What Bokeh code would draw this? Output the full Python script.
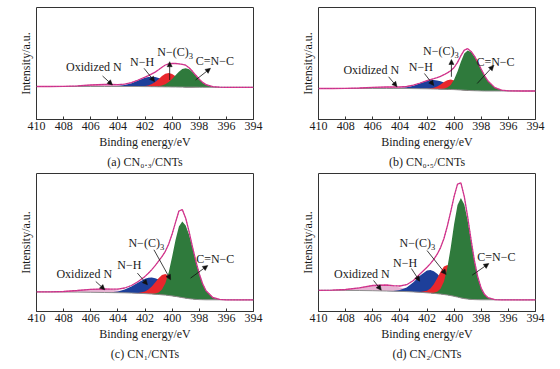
from bokeh.plotting import figure
from bokeh.models import Range1d, FixedTicker, Label, Arrow, NormalHead, Title
from bokeh.layouts import column, row
from bokeh.embed import file_html
from bokeh.resources import INLINE
import numpy as np

FONT = "Liberation Serif"

# Binding energy grid (eV)
energy = [410, 409, 408, 407, 406, 405, 404.5, 404, 403.5, 403, 402.5, 402, 401.75, 401.5,
          401.25, 401, 400.75, 400.5, 400.25, 400, 399.75, 399.5, 399.25, 399, 398.75, 398.5,
          398.25, 398, 397.75, 397.5, 397, 396.5, 396, 395, 394]
xticks = [410, 408, 406, 404, 402, 400, 398, 396, 394]

# ---- (a) CN0.3/CNTs ----
base_a = [33.0] * 11 + [32.9, 32.9, 32.8, 32.8, 32.7, 32.7, 32.6, 32.6, 32.5, 32.5, 32.4, 32.4,
                        32.3, 32.3, 32.3, 32.3] + [32.2] * 8
oxn_a = [0, 0, 0.1, 0.6, 1.5, 2.0, 1.9, 1.5, 1.0, 0.6, 0.3, 0.1, 0.1, 0.1] + [0] * 21
nh_a = [0] * 6 + [0.1, 0.4, 1.4, 3.3, 6.1, 8.8, 9.7, 10.0, 9.7, 8.8, 7.6, 6.1, 4.6, 3.3, 2.2,
                  1.4, 0.8, 0.4, 0.2, 0.1] + [0] * 9
nc3_a = [0] * 10 + [0.1, 0.5, 1.2, 2.6, 4.7, 7.6, 10.7, 13.1, 14.0, 13.1, 10.7, 7.6, 4.7, 2.6,
                    1.2, 0.5, 0.2, 0.1] + [0] * 7
cnc_a = [0] * 13 + [0.1, 0.2, 0.6, 1.3, 2.7, 4.9, 8.0, 11.7, 15.3, 18.0, 19.0, 18.0, 15.3, 11.7,
                    8.0, 4.9, 2.7, 0.6, 0.1] + [0] * 3
env_a = [0, 0, 0.1, 0.6, 1.5, 2.0, 2.0, 1.9, 2.4, 3.9, 6.5, 9.4, 11.0, 12.8, 14.6, 17.0, 19.6,
         21.9, 23.0, 23.5, 23.5, 23.3, 22.8, 22.0, 19.4, 15.9, 11.9, 8.1, 4.9, 2.7, 0.6, 0.1, 0, 0, 0]

# ---- (b) CN0.5/CNTs ----
base_b = [31.0] * 9 + [30.9, 30.8, 30.7, 30.6, 30.5, 30.4, 30.3, 30.2, 30.1, 30.0, 29.9, 29.7,
                       29.5, 29.3, 29.1, 28.9, 28.8, 28.7, 28.6] + [28.5] * 7
oxn_b = [0, 0, 0.1, 0.5, 1.1, 1.5, 1.4, 1.1, 0.8, 0.5, 0.2, 0.1, 0.1] + [0] * 22
nh_b = [0] * 6 + [0.1, 0.4, 1.2, 2.9, 5.5, 7.9, 8.7, 9.0, 8.7, 7.9, 6.8, 5.5, 4.1, 2.9, 1.9,
                  1.2, 0.7, 0.4, 0.2, 0.1] + [0] * 9
nc3_b = [0] * 11 + [0.2, 0.5, 1.3, 2.7, 4.8, 7.2, 9.2, 10.0, 9.2, 7.2, 4.8, 2.7, 1.3, 0.5, 0.2,
                    0.1] + [0] * 8
cnc_b = [0] * 15 + [0.2, 0.6, 1.8, 4.6, 10.0, 18.3, 28.3, 36.7, 40.0, 38.5, 34.3, 28.3, 21.6,
                    15.2, 10.0, 3.4, 0.8, 0.2] + [0] * 2
env_b = [0, 0, 0.1, 0.5, 1.1, 1.5, 1.5, 1.5, 2.0, 3.4, 5.7, 8.2, 9.3, 10.3, 11.4, 12.9, 14.6,
         16.5, 18.7, 22.1, 27.4, 34.3, 40.1, 41.7, 39.2, 34.6, 28.4, 21.6, 15.2, 10.0, 3.4, 0.8,
         0.2, 0, 0]

# ---- (c) CN1/CNTs ----
base_c = [19.6, 19.6, 19.5, 19.4, 19.2, 19.0, 18.9, 18.8, 18.7, 18.5, 18.2, 17.9, 17.7, 17.5,
          17.2, 17.0, 16.7, 16.4, 16.0, 15.6, 15.1, 14.5, 13.9, 13.3, 12.8, 12.4, 12.1, 11.9,
          11.8, 11.7, 11.7, 11.7, 11.7, 11.6, 11.6]
oxn_c = [0, 0.1, 0.5, 1.6, 3.0, 3.4, 3.0, 2.3, 1.6, 1.0, 0.5, 0.2, 0.2, 0.1, 0.1] + [0] * 20
nh_c = [0] * 5 + [0.1, 0.4, 1.3, 3.2, 6.5, 10.9, 14.9, 16.1, 16.5, 16.1, 14.9, 13.1, 10.9, 8.6,
                  6.5, 4.7, 3.2, 2.0, 1.3, 0.7, 0.4, 0.2, 0.1] + [0] * 7
nc3_c = [0] * 10 + [0.4, 2.1, 4.3, 7.6, 11.8, 16.3, 19.7, 21.0, 19.7, 16.3, 11.8, 7.6, 4.3, 2.1,
                    0.9, 0.4, 0.1] + [0] * 8
cnc_c = [0] * 13 + [0.2, 0.7, 2.1, 5.3, 11.9, 23.3, 39.1, 56.5, 70.6, 76.0, 72.8, 63.9, 51.5,
                    38.0, 25.8, 16.0, 9.1, 2.3, 0.4] + [0] * 3
env_c = [0, 0.1, 0.5, 1.6, 3.0, 3.5, 3.4, 3.6, 4.8, 7.5, 11.8, 17.2, 20.6, 24.4, 28.7, 33.3,
         38.1, 43.8, 51.6, 61.9, 74.0, 86.0, 88.0, 80.0, 67.0, 52.3, 38.3, 25.9, 16.0, 9.1, 2.3,
         0.4, 0, 0, 0]

# ---- (d) CN2/CNTs ----
base_d = [21.2, 21.2, 21.1, 21.0, 20.8, 20.5, 20.3, 20.1, 19.9, 19.6, 19.2, 18.7, 18.4, 18.1,
          17.8, 17.4, 17.0, 16.5, 15.9, 15.2, 14.4, 13.6, 12.9, 12.4, 12.1, 11.9, 11.8, 11.7,
          11.7, 11.7, 11.7, 11.7, 11.7, 11.6, 11.6]
oxn_d = [0, 0.2, 0.9, 2.7, 5.2, 5.9, 5.2, 4.0, 2.7, 1.7, 0.9, 0.4, 0.3, 0.2, 0.1, 0.1] + [0] * 19
nh_d = [0] * 5 + [0.1, 0.3, 1.4, 4.2, 9.7, 16.8, 22.2, 23.0, 22.2, 20.0, 16.8, 13.2, 9.7, 6.6,
                  4.2, 2.5, 1.4, 0.7, 0.3, 0.1] + [0] * 10
nc3_d = [0] * 10 + [0.3, 2.1, 4.7, 9.2, 15.4, 22.3, 27.9, 30.0, 27.9, 22.3, 15.4, 9.2, 4.7, 2.1,
                    0.8, 0.3, 0.1] + [0] * 8
cnc_d = [0] * 12 + [0.1, 0.6, 1.9, 5.4, 13.1, 27.2, 48.1, 72.2, 92.2, 100.0, 94.1, 78.6, 58.1,
                    38.1, 22.2, 11.4, 5.2, 2.1, 0.2] + [0] * 4
env_d = [0, 0.2, 0.9, 2.7, 5.2, 6.0, 5.5, 5.4, 6.9, 11.4, 18.5, 25.5, 29.5, 34.0, 39.5, 46.5,
         56.0, 69.0, 84.0, 100.0, 113.0, 115.0, 102.0, 82.0, 59.5, 38.6, 22.4, 11.4, 5.2, 2.1,
         0.2, 0, 0, 0, 0]

peak_names = ["Oxidized N", "N\u2212H", "N\u2212(C)", "C=N\u2212C"]
captions = ["(a) CN\u2080.\u2083/CNTs", "(b) CN\u2080.\u2085/CNTs",
            "(c) CN\u2081/CNTs", "(d) CN\u2082/CNTs"]

# annotation placement: (text anchor, arrow start, arrow end) in data coordinates
annots = [
    [((405.77, 52.8), (405.13, 43.5), (404.4, 34.5)),
     ((402.22, 57.8), (402.07, 51.2), (401.29, 37.8)),
     ((401.09, 67.8), (400.18, 39.5), (400.18, 57.8)),
     ((396.85, 58.5), (398.27, 39.5), (397.17, 51.2))],
    [((406.11, 49.3), (404.83, 42.7), (404.21, 32.7)),
     ((402.45, 52.3), (402.19, 46.0), (401.5, 34.0)),
     ((402.29, 68.3), (400.2, 42.7), (400.2, 60.0)),
     ((396.95, 57.7), (398.3, 36.0), (397.08, 54.0))],
    [((406.48, 37.4), (405.63, 30.0), (404.96, 21.7)),
     ((403.15, 46.7), (402.56, 38.4), (401.82, 26.7)),
     ((403.22, 68.4), (401.34, 61.7), (400.11, 31.7)),
     ((396.82, 52.7), (398.64, 33.4), (397.37, 46.0))],
    [((406.8, 38.0), (405.94, 31.0), (405.37, 21.3)),
     ((403.62, 48.7), (403.15, 43.0), (402.54, 30.3)),
     ((404.02, 68.7), (402.0, 61.0), (400.59, 37.0)),
     ((396.89, 54.7), (398.67, 36.3), (397.44, 48.0))],
]

OX_COL = "#e6b3d3"
NH_COL = "#1d3f9a"
NC_COL = "#e8272d"
CN_COL = "#2f7a3c"
ENV_COL = "#e0368a"
RAW_COL = "#7a3fa0"
BASE_COL = "#8f8f8f"
TXT = "#1a1a1a"


def make_panel(idx, base, oxn, nh, nc3, cnc, env, width, height, left, right, top, bottom, ymax):
    p = figure(width=width, height=height, x_range=Range1d(410, 394), y_range=Range1d(0, ymax),
               output_backend="svg", toolbar_location=None,
               min_border_left=left, min_border_right=right, min_border_top=top,
               min_border_bottom=bottom)
    p.xgrid.grid_line_color = None
    p.ygrid.grid_line_color = None
    p.outline_line_color = "#333333"
    p.outline_line_width = 1
    p.background_fill_color = "white"
    p.border_fill_color = "white"

    b = np.array(base)
    for comp, col in [(oxn, OX_COL), (nh, NH_COL), (nc3, NC_COL), (cnc, CN_COL)]:
        p.varea(x=energy, y1=b, y2=b + np.array(comp), fill_color=col)
    p.line(energy, b, line_color=BASE_COL, line_width=1)
    e = b + np.array(env)
    p.line(energy, e, line_color=ENV_COL, line_width=1.3)
    p.line(energy, e, line_color=RAW_COL, line_width=0.8, line_dash="1 2", line_alpha=0.8)

    ax = p.xaxis[0]
    ax.ticker = FixedTicker(ticks=xticks)
    ax.minor_tick_line_color = None
    ax.major_tick_in = 3
    ax.major_tick_out = 0
    ax.major_tick_line_color = "#333333"
    ax.axis_line_color = "#333333"
    ax.major_label_text_font = FONT
    ax.major_label_text_font_size = "12px"
    ax.major_label_text_color = TXT
    ax.major_label_standoff = 2
    ax.axis_label = "Binding energy/eV"
    ax.axis_label_text_font = FONT
    ax.axis_label_text_font_size = "12px"
    ax.axis_label_text_font_style = "normal"
    ax.axis_label_text_color = TXT
    ax.axis_label_standoff = 2

    ay = p.yaxis[0]
    ay.ticker = FixedTicker(ticks=[])
    ay.major_tick_line_color = None
    ay.minor_tick_line_color = None
    ay.axis_line_color = None
    ay.axis_label = "Intensity/a.u."
    ay.axis_label_text_font = FONT
    ay.axis_label_text_font_size = "12px"
    ay.axis_label_text_font_style = "normal"
    ay.axis_label_text_color = TXT
    ay.axis_label_standoff = 4

    for k, ((tx, ty), (sx, sy), (ex, ey)) in enumerate(annots[idx]):
        if k == 2:
            p.add_layout(Label(x=tx, y=ty, text=peak_names[k], text_font=FONT,
                               text_font_size="12px", text_color=TXT, text_align="left",
                               text_baseline="middle"))
            p.add_layout(Label(x=tx, y=ty, text="3", text_font=FONT, text_font_size="8.5px",
                               text_color=TXT, text_align="left", text_baseline="middle",
                               x_offset=31.5, y_offset=-4))
        else:
            p.add_layout(Label(x=tx, y=ty, text=peak_names[k], text_font=FONT,
                               text_font_size="12px", text_color=TXT, text_align="center",
                               text_baseline="middle"))
        p.add_layout(Arrow(end=NormalHead(size=5, fill_color="#111111", line_color="#111111",
                                          line_width=0.5),
                           x_start=sx, y_start=sy, x_end=ex, y_end=ey,
                           line_color="#111111", line_width=0.8))

    cap = Title(text=captions[idx], align="center", text_font=FONT, text_font_size="12px",
                text_font_style="normal", text_color=TXT, standoff=2)
    p.add_layout(cap, "below")
    return p


pa = make_panel(0, base_a, oxn_a, nh_a, nc3_a, cnc_a, env_a, 280, 173, 36, 27, 7, 54, 112)
pb = make_panel(1, base_b, oxn_b, nh_b, nc3_b, cnc_b, env_b, 272, 173, 38, 17, 7, 54, 112)
pc = make_panel(2, base_c, oxn_c, nh_c, nc3_c, cnc_c, env_c, 280, 188, 36, 27, 0, 50, 138)
pd = make_panel(3, base_d, oxn_d, nh_d, nc3_d, cnc_d, env_d, 272, 188, 38, 17, 0, 50, 138)

layout = column(row(pa, pb), row(pc, pd))
open("out.html", "w").write(file_html(layout, INLINE))
